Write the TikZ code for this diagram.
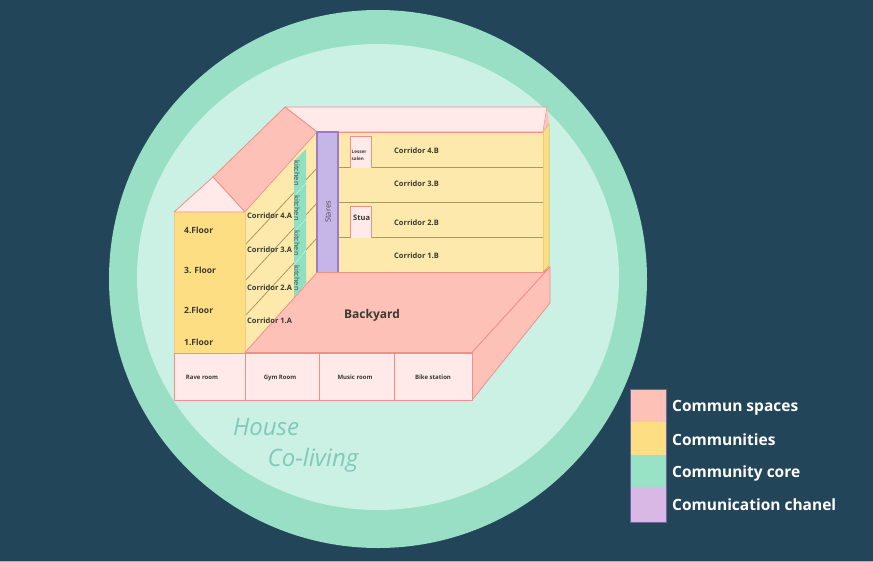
\documentclass[tikz,border=0pt]{standalone}
\usepackage{fontspec}
\setmainfont{Open Sans}
\definecolor{bgc}{HTML}{23455A}
\definecolor{ringc}{HTML}{98DFC6}
\definecolor{innerc}{HTML}{CBF0E4}
\definecolor{pinkl}{HTML}{FFE9E9}
\definecolor{pinkd}{HTML}{FDC1B8}
\definecolor{edgep}{HTML}{F0908A}
\definecolor{yeld}{HTML}{FDDE82}
\definecolor{yell}{HTML}{FDE9AC}
\definecolor{linec}{HTML}{A89A60}
\definecolor{purp}{HTML}{C6B6E8}
\definecolor{purpe}{HTML}{9A7CCB}
\definecolor{legp}{HTML}{DAB8E6}
\definecolor{legg}{HTML}{98E3C6}
\definecolor{kitc}{HTML}{8FE0C2}
\definecolor{txtd}{HTML}{3A3A30}
\definecolor{hous}{HTML}{7FCBB6}
\tikzset{
  wall/.style={draw=edgep,line width=.8pt,line join=round},
  divider/.style={draw=linec,line width=.8pt},
  lab/.style={font=\bfseries\fontsize{7.5}{8}\selectfont,text=txtd,inner sep=0pt},
  floorlab/.style={font=\bfseries\fontsize{8.5}{9}\selectfont,text=txtd,inner sep=0pt,anchor=west},
  smalllab/.style={font=\bfseries\fontsize{6}{7}\selectfont,text=txtd,inner sep=0pt},
  kit/.style={font=\fontsize{7.5}{8}\selectfont,text=txtd!85!kitc,inner sep=0pt,rotate=-90},
  leg/.style={font=\bfseries\fontsize{15.5}{17}\selectfont,text=white,inner sep=0pt,anchor=west},
  hs/.style={font=\itshape\fontsize{24}{26}\selectfont,text=hous,inner sep=0pt}
}
\begin{document}
\begin{tikzpicture}[x=1pt,y=-1pt]
\useasboundingbox (0,0) rectangle (873,562);
\fill[bgc] (0,0) rectangle (873,562);
\fill[bgc!40!white] (0,561) rectangle (873,562);
\fill[ringc] (378,279) ellipse [x radius=269,y radius=269];
\fill[innerc] (378,277) ellipse [x radius=241,y radius=233];
% roofs
\draw[wall,fill=pinkl] (285,107) -- (547,107) -- (543,132) -- (317,132) -- cycle;
\draw[wall,fill=pinkd] (213,177) -- (285,107) -- (317,132) -- (245,212) -- cycle;
\draw[wall,fill=pinkl] (174,212) -- (213,177) -- (245,212) -- cycle;
\fill[pinkd] (547,107) -- (549,123) -- (543,132) -- cycle;
% right end
\draw[draw=yeld!80!black,fill=yeld,line width=.5pt] (543,132) -- (549,124) -- (549,266) -- (543,272) -- cycle;
% wing A
\fill[yell] (245,212) -- (317,132) -- (317,272) -- (245,353) -- cycle;
\draw[divider] (245,245) -- (317,168);
\draw[divider] (245,281) -- (317,203);
\draw[divider] (245,316) -- (317,238);
\fill[kitc] (306,149) -- (294,161) -- (294,298) -- (306,283) -- cycle;
\draw[innerc,line width=.5pt] (294,196) -- (306,183);
\draw[innerc,line width=.5pt] (294,232) -- (306,219);
\draw[innerc,line width=.5pt] (294,265) -- (306,250);
\draw[edgep,line width=.5pt] (245,212) -- (317,132);
% left block
\draw[wall,draw=yeld!70!edgep,fill=yeld] (174,212) rectangle (245,353);
% wing B
\fill[yell] (338,132) rectangle (543,272);
\foreach \yy in {167.5,202.5,237.5} \draw[divider] (338,\yy) -- (543,\yy);
\draw[edgep,line width=.6pt] (338,132) -- (543,132);
\draw[wall,fill=pinkl] (350,168) -- (350,136) -- (371,136) -- (371,168);
\draw[wall,fill=pinkl] (350,238) -- (350,206) -- (371,206) -- (371,238);
% stairs
\draw[draw=purpe,fill=purp,line width=1.2pt] (317,132) rectangle (338,273);
% backyard
\draw[wall,fill=pinkd] (317,272.5) -- (543,272.5) -- (550,267) -- (472,352.5) -- (245,352.5) -- cycle;
\draw[wall,fill=pinkd] (472,352.5) -- (550,267) -- (550,303) -- (472,400) -- cycle;
% front
\draw[wall,fill=pinkl] (174,353) rectangle (472,400);
\foreach \xx in {245,319,394} \draw[wall] (\xx,353) -- (\xx,400);
% legend
\fill[pinkd] (630,389) rectangle (666,422);
\fill[yeld] (630,422) rectangle (666,454.5);
\fill[legg] (630,454.5) rectangle (666,487);
\fill[legp] (630,487) rectangle (666,522.5);
\draw[purpe!60!bgc,line width=.4pt] (630,389) rectangle (666,522.5);
% texts
\node[floorlab] (f4) at (184,230) {4.Floor};
\node[floorlab] (f3) at (184,270) {3. Floor};
\node[floorlab] (f2) at (184,310) {2.Floor};
\node[floorlab] (f1) at (184,342) {1.Floor};
\node[lab,anchor=west] (a4) at (247,215.5) {Corridor 4.A};
\node[lab,anchor=west] (a3) at (247,249.5) {Corridor 3.A};
\node[lab,anchor=west] (a2) at (247,288) {Corridor 2.A};
\node[lab,anchor=west] (a1) at (247,321) {Corridor 1.A};
\node[kit] (k4) at (297,173) {kitchen};
\node[kit] (k3) at (297,208) {kitchen};
\node[kit] (k2) at (297,243) {kitchen};
\node[kit] (k1) at (297,278) {kitchen};
\node[font=\fontsize{7.5}{8}\selectfont,text=txtd!80!purpe,inner sep=0pt,rotate=90] (st) at (328,212) {Stares};
\node[lab,anchor=west] (b4) at (394,150.5) {Corridor 4.B};
\node[lab,anchor=west] (b3) at (394,184) {Corridor 3.B};
\node[lab,anchor=west] (b2) at (394,223) {Corridor 2.B};
\node[lab,anchor=west] (b1) at (394,256) {Corridor 1.B};
\node[font=\bfseries\fontsize{4.6}{7}\selectfont,text=txtd,inner sep=0pt,align=left,anchor=west] (ls) at (351.5,155) {Lesser\\salen};
\node[lab,anchor=west] (su) at (353,218) {Stua};
\node[font=\bfseries\fontsize{12}{13}\selectfont,text=txtd,inner sep=0pt] (by) at (372,315) {Backyard};
\node[smalllab,anchor=base] (r1) at (202,379) {Rave room};
\node[smalllab,anchor=base] (r2) at (280,379) {Gym Room};
\node[smalllab,anchor=base] (r3) at (355,379) {Music room};
\node[smalllab,anchor=base] (r4) at (433,379) {Bike station};
\node[hs] (h1) at (266,427) {House};
\node[hs] (h2) at (313,460) {Co-living};
\node[leg] (l1) at (672,408) {Commun spaces};
\node[leg] (l2) at (672,440) {Communities};
\node[leg] (l3) at (672,473) {Community core};
\node[leg] (l4) at (672,505) {Comunication chanel};
\end{tikzpicture}
\end{document}
